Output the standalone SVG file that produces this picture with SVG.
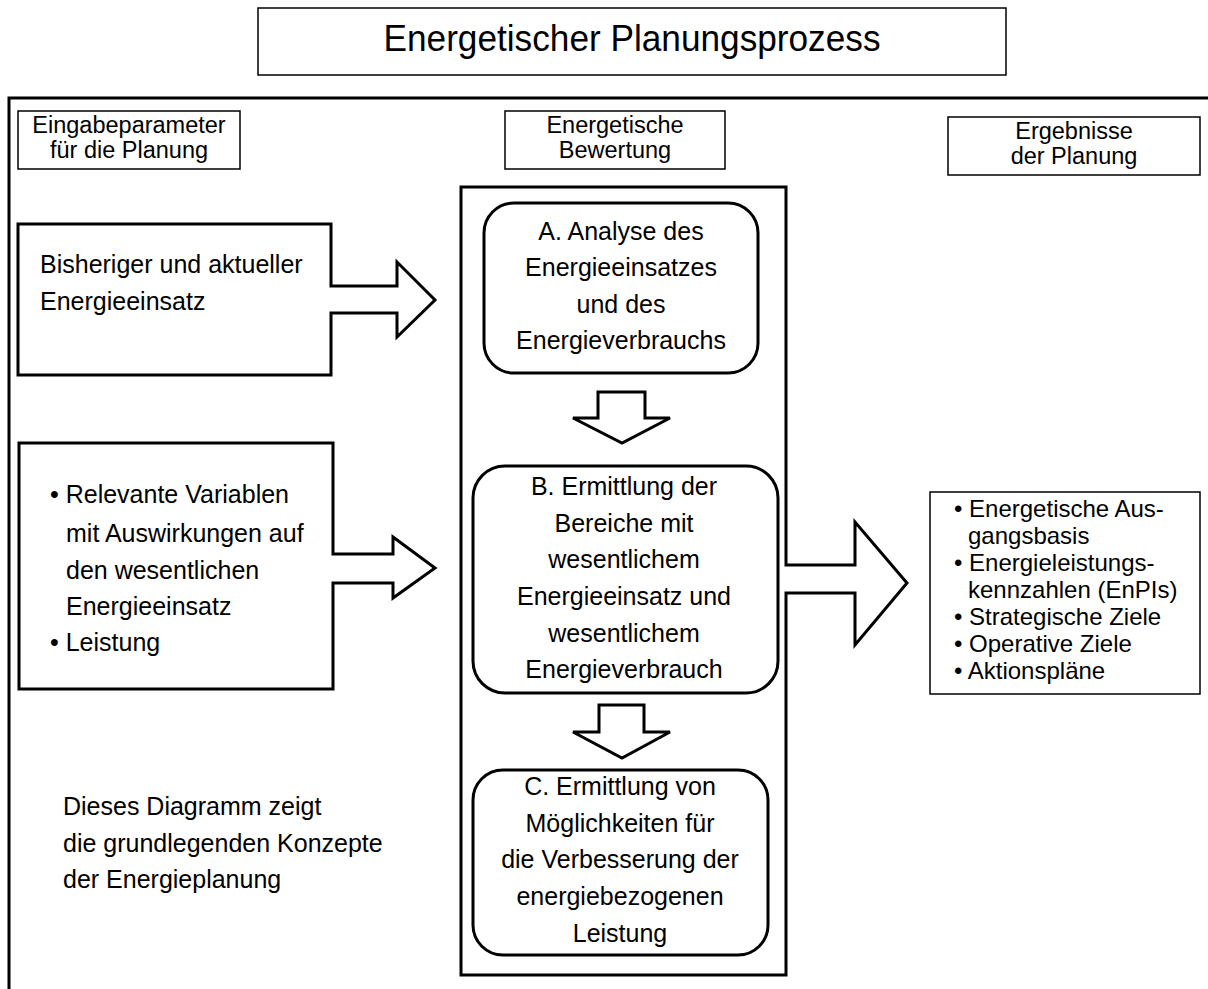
<svg xmlns="http://www.w3.org/2000/svg" width="1208" height="989" viewBox="0 0 1208 989">
<style>
text{font-family:"Liberation Sans",Arial,sans-serif;fill:#000}
.lbl{font-size:23.5px;text-anchor:middle}
.body{font-size:25px}
.mid{font-size:25px;text-anchor:middle}
.res{font-size:24px}
.thin{fill:#fff;stroke:#000;stroke-width:1.5}
.thick{fill:#fff;stroke:#000;stroke-width:3;stroke-linejoin:miter}
.frame{fill:none;stroke:#000;stroke-width:3}
</style>
<rect width="1208" height="989" fill="#fff"/>
<g id="title">
<rect class="thin" x="258" y="8" width="748" height="67"/>
<text x="632" y="51" font-size="36" text-anchor="middle" textLength="497" lengthAdjust="spacingAndGlyphs">Energetischer Planungsprozess</text>
</g>
<g id="frame">
<path class="frame" d="M9,989 V98 H1208"/>
</g>
<g id="label-input">
<rect class="thin" x="18" y="111" width="222" height="58"/>
<text class="lbl" x="129" y="133">Eingabeparameter</text>
<text class="lbl" x="129" y="158">für die Planung</text>
</g>
<g id="label-evaluation">
<rect class="thin" x="505" y="111" width="220" height="58"/>
<text class="lbl" x="615" y="133">Energetische</text>
<text class="lbl" x="615" y="158">Bewertung</text>
</g>
<g id="label-results">
<rect class="thin" x="948" y="117" width="252" height="58"/>
<text class="lbl" x="1074" y="139">Ergebnisse</text>
<text class="lbl" x="1074" y="164">der Planung</text>
</g>
<g id="input-energy">
<polygon class="thick" points="18,224 331,224 331,286 397,286 397,262 435,300 397,337 397,313 331,313 331,375 18,375"/>
<text class="body" x="40" y="273">Bisheriger und aktueller</text>
<text class="body" x="40" y="310">Energieeinsatz</text>
</g>
<g id="input-variables">
<polygon class="thick" points="19,443 333,443 333,554 393,554 393,537 435,568 393,598 393,583 333,583 333,689 19,689"/>
<text class="body" x="50" y="503">• Relevante Variablen</text>
<text class="body" x="66" y="542">mit Auswirkungen auf</text>
<text class="body" x="66" y="579">den wesentlichen</text>
<text class="body" x="66" y="615">Energieeinsatz</text>
<text class="body" x="50" y="651">• Leistung</text>
</g>
<g id="note">
<text class="body" x="63" y="815">Dieses Diagramm zeigt</text>
<text class="body" x="63" y="852">die grundlegenden Konzepte</text>
<text class="body" x="63" y="888">der Energieplanung</text>
</g>
<g id="evaluation">
<polygon class="thick" points="786,565 786,187 461,187 461,975 786,975 786,593 855,593 855,645 907,583 855,522 855,565"/>
</g>
<g id="step-a">
<rect class="thick" x="484" y="203" width="274" height="170" rx="30" ry="30"/>
<text class="mid" x="621" y="240">A. Analyse des</text>
<text class="mid" x="621" y="276">Energieeinsatzes</text>
<text class="mid" x="621" y="313">und des</text>
<text class="mid" x="621" y="349">Energieverbrauchs</text>
</g>
<g id="step-b">
<rect class="thick" x="473" y="466" width="305" height="227" rx="32" ry="32"/>
<text class="mid" x="624" y="495">B. Ermittlung der</text>
<text class="mid" x="624" y="532">Bereiche mit</text>
<text class="mid" x="624" y="568">wesentlichem</text>
<text class="mid" x="624" y="605">Energieeinsatz und</text>
<text class="mid" x="624" y="642">wesentlichem</text>
<text class="mid" x="624" y="678">Energieverbrauch</text>
</g>
<g id="step-c">
<rect class="thick" x="473" y="770" width="295" height="185" rx="30" ry="30"/>
<text class="mid" x="620" y="795">C. Ermittlung von</text>
<text class="mid" x="620" y="832">Möglichkeiten für</text>
<text class="mid" x="620" y="868">die Verbesserung der</text>
<text class="mid" x="620" y="905">energiebezogenen</text>
<text class="mid" x="620" y="942">Leistung</text>
</g>
<g id="connectors">
<polygon class="thick" points="598,392 645,392 645,418 670,418 622,443 573,418 598,418"/>
<polygon class="thick" points="599,705 644,705 644,732 670,732 622,758 573,732 599,732"/>
</g>
<g id="results">
<rect class="thin" x="930" y="492" width="270" height="202"/>
<text class="res" x="954" y="517">• Energetische Aus-</text>
<text class="res" x="968" y="544">gangsbasis</text>
<text class="res" x="954" y="571">• Energieleistungs-</text>
<text class="res" x="968" y="598">kennzahlen (EnPIs)</text>
<text class="res" x="954" y="625">• Strategische Ziele</text>
<text class="res" x="954" y="652">• Operative Ziele</text>
<text class="res" x="954" y="679">• Aktionspläne</text>
</g>
</svg>
